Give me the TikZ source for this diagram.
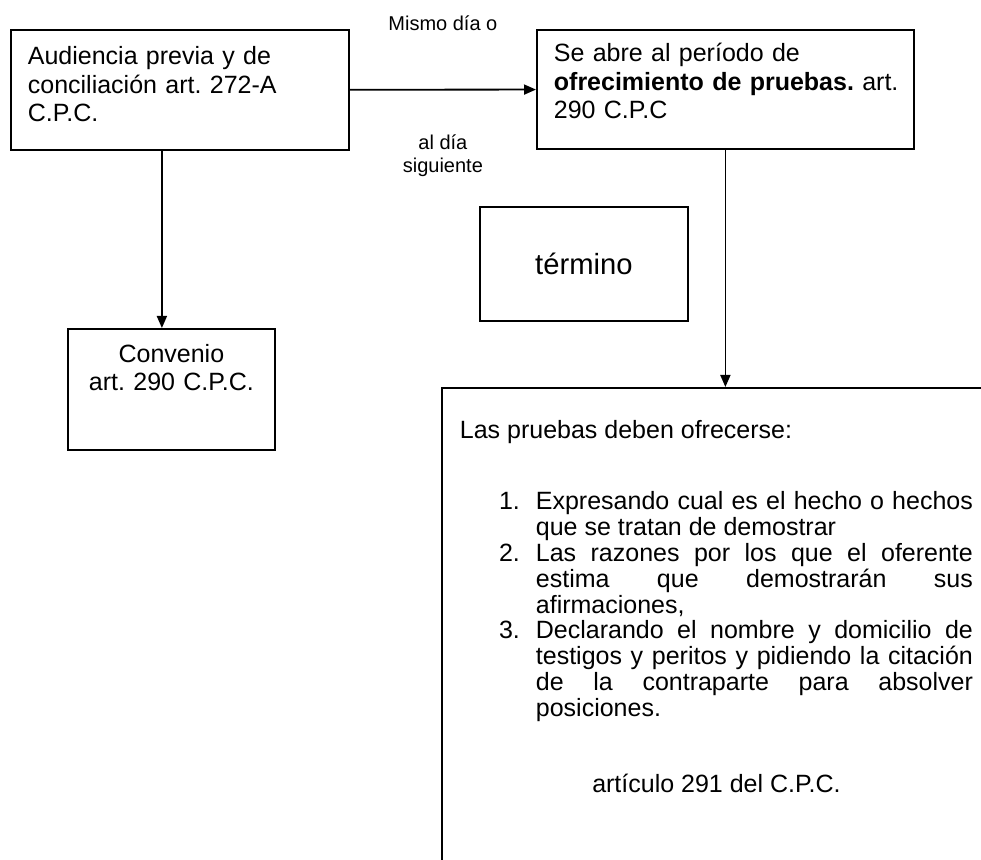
\documentclass[tikz,border=0pt]{standalone}
\usepackage{fontspec}
\setmainfont{Liberation Sans}
\frenchspacing
\usepackage{tikz}
\usetikzlibrary{arrows.meta}

\tikzset{
	caja/.style={draw, line width=0.9pt, anchor=north west, inner xsep=8.5pt, inner ysep=0pt},
	letra/.style={font=\fontsize{12.5}{14.25}\selectfont},
	chica/.style={font=\fontsize{10}{11.5}\selectfont}
}

\begin{document}
\begin{tikzpicture}[x=0.5pt, y=-0.5pt, >={Triangle[length=6pt, width=5pt]}]
		% marco
		\useasboundingbox (0,0) rectangle (981,860);
		\clip (0,0) rectangle (981,860);
		% cajas
		\node [caja, letra, text width=152pt, align=left, text height=17.5pt, text depth=42.5pt] (audiencia) at (10,29) {Audiencia previa y de\\conciliación art. 272-A\\C.P.C.};
		\node [caja, letra, text width=171.5pt, align=left, text height=16pt, text depth=43.5pt] (ofrecimiento) at (536,29) {Se abre al período de\\\mbox{\textbf{ofrecimiento de pruebas.} art.}\\290 C.P.C};
		\node [caja, font=\fontsize{12.5}{14}\selectfont, text width=86.5pt, align=center, text height=17pt, text depth=43.5pt] (convenio) at (67,328) {Convenio\\art. 290 C.P.C.};
		\node [draw, line width=0.9pt, anchor=north west, minimum width=104pt, minimum height=57pt, font=\fontsize{14.6}{17}\selectfont] (termino) at (479,206) {término};
		\node [caja, font=\fontsize{12.5}{12.9}\selectfont, inner xsep=9pt, text width=256.5pt, align=justify, text height=25.5pt, text depth=221pt] (pruebas) at (441,387) {\tolerance=10000 \hbadness=10000 \hyphenpenalty=10000
			Las pruebas deben ofrecerse:\par
			\vspace{22.6pt}
			{\leftskip=38pt
			\leavevmode\llap{1.\hspace{8pt}}Expresando cual es el hecho o hechos\linebreak que se tratan de demostrar\par
			\leavevmode\llap{2.\hspace{8pt}}Las razones por los que el oferente\linebreak estima que demostrarán sus\linebreak afirmaciones,\par
			\leavevmode\llap{3.\hspace{8pt}}Declarando el nombre y domicilio de\linebreak testigos y peritos y pidiendo la citación\linebreak de la contraparte para absolver\linebreak posiciones.\par}
			\vspace{25.1pt}
			{\centering artículo 291 del C.P.C.\par}};
		% flechas
		\draw [->, line width=0.9pt] (audiencia) -- node [chica, yshift=33pt] (mismo) {Mismo día o} node [chica, yshift=-33pt, align=center] (siguiente) {al día\\siguiente} (ofrecimiento);
		\draw [->, line width=0.9pt] ([xshift=-9pt]audiencia.south) -- ([xshift=-9pt]audiencia.south |- convenio.north);
		\draw [->, line width=0.9pt] (ofrecimiento) -- (ofrecimiento |- pruebas.north);
\end{tikzpicture}
\end{document}
